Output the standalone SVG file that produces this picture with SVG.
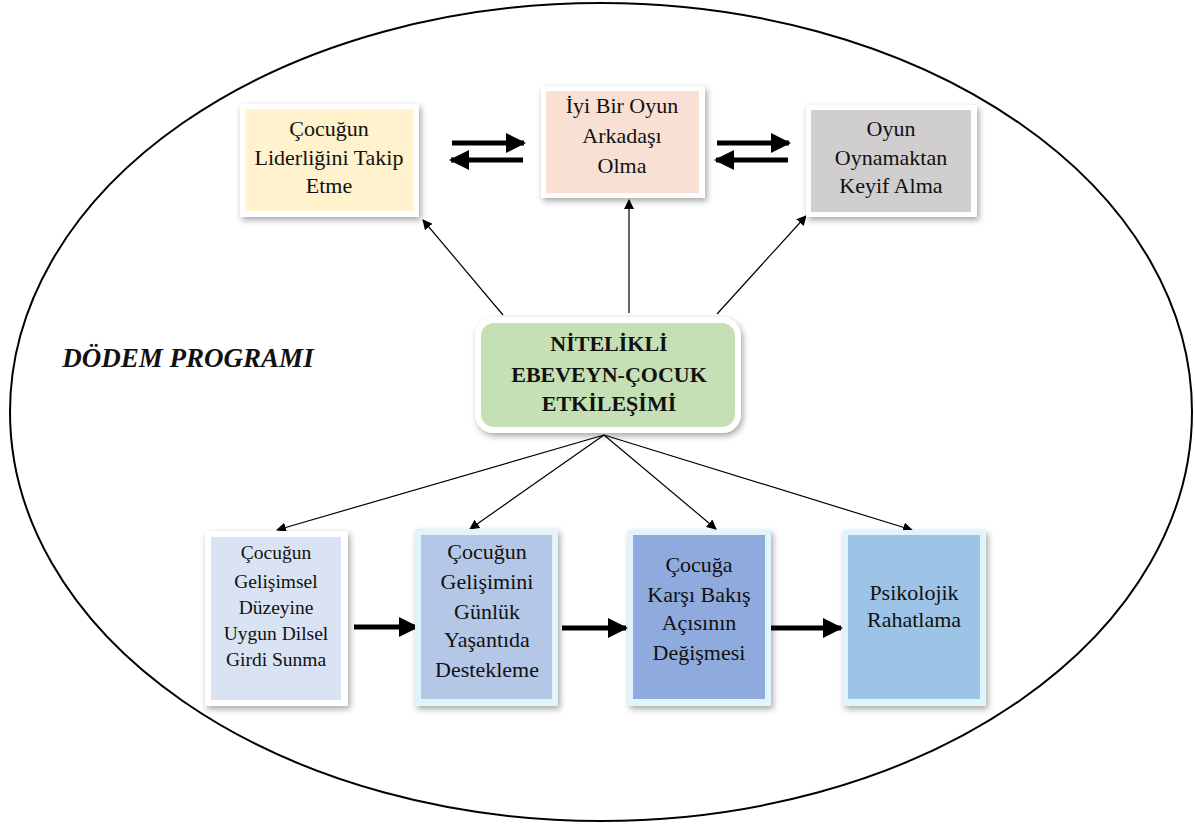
<svg xmlns="http://www.w3.org/2000/svg" width="1195" height="825" viewBox="0 0 1195 825">
<defs>
<filter id="sh" x="-20%" y="-20%" width="140%" height="140%">
<feDropShadow dx="2" dy="3" stdDeviation="3" flood-color="#000" flood-opacity="0.35"/>
</filter>
<marker id="ah" viewBox="0 0 10 10" refX="9" refY="5" markerWidth="10" markerHeight="10" markerUnits="userSpaceOnUse" orient="auto">
<path d="M0,0 L10,5 L0,10 z" fill="#000"/>
</marker>
<marker id="ahb" viewBox="0 0 10 10" refX="9" refY="5" markerWidth="4" markerHeight="4" orient="auto">
<path d="M0,0 L10,5 L0,10 z" fill="#000"/>
</marker>
<style>
text{font-family:'Liberation Serif','Times New Roman',serif}
.t{font-size:22px;fill:#111;text-anchor:middle}
.ts{font-size:19.5px}
.b{font-weight:bold;font-size:22px}
.thin{stroke:#000;stroke-width:1.2;fill:none;marker-end:url(#ah)}
.thick{stroke:#000;stroke-width:5;fill:none;marker-end:url(#ahb)}
.frame{fill:#fff;filter:url(#sh)}
.bev{fill:#dff4fb;filter:url(#sh)}
</style>
</defs>
<rect width="1195" height="825" fill="#fff"/>
<ellipse cx="601" cy="412" rx="591" ry="409" fill="none" stroke="#000" stroke-width="2"/>
<text x="188" y="367" font-size="27" font-weight="bold" font-style="italic" text-anchor="middle" fill="#111">DÖDEM PROGRAMI</text>

<g id="connectors">
<line class="thin" x1="503" y1="315" x2="423" y2="220"/>
<line class="thin" x1="629" y1="313" x2="629" y2="200"/>
<line class="thin" x1="717" y1="314" x2="806" y2="216"/>
<line class="thin" x1="604" y1="435" x2="277" y2="530"/>
<line class="thin" x1="604" y1="435" x2="470" y2="529"/>
<line class="thin" x1="604" y1="435" x2="716" y2="529"/>
<line class="thin" x1="604" y1="435" x2="912" y2="530"/>
<line class="thick" x1="452" y1="143" x2="524" y2="143"/>
<line class="thick" x1="523" y1="160" x2="451" y2="160"/>
<line class="thick" x1="717" y1="143" x2="789" y2="143"/>
<line class="thick" x1="788" y1="160" x2="716" y2="160"/>
<line class="thick" x1="354" y1="627" x2="417" y2="627"/>
<line class="thick" x1="562" y1="628" x2="626" y2="628"/>
<line class="thick" x1="770" y1="628" x2="841" y2="628"/>
</g>

<g id="n1">
<rect class="frame" x="240" y="104" width="179" height="113"/>
<rect x="245" y="109" width="168" height="102" fill="#fff2cc"/>
<text class="t" x="329" y="136">Çocuğun</text>
<text class="t" x="329" y="165">Liderliğini Takip</text>
<text class="t" x="329" y="193">Etme</text>
</g>
<g id="n2">
<rect class="frame" x="541" y="86" width="164" height="112"/>
<rect x="546" y="91" width="153" height="102" fill="#f8e0d4"/>
<text class="t" x="622" y="113">İyi Bir Oyun</text>
<text class="t" x="622" y="143">Arkadaşı</text>
<text class="t" x="622" y="173">Olma</text>
</g>
<g id="n3">
<rect class="frame" x="806" y="105" width="171" height="112"/>
<rect x="811" y="110" width="160" height="102" fill="#d0cece"/>
<text class="t" x="891" y="136">Oyun</text>
<text class="t" x="891" y="165">Oynamaktan</text>
<text class="t" x="891" y="193">Keyif Alma</text>
</g>
<g id="center">
<rect x="478" y="320" width="260" height="110" rx="16" fill="#c5e0b4" stroke="#fff" stroke-width="6" filter="url(#sh)"/>
<text class="t b" x="609" y="351">NİTELİKLİ</text>
<text class="t b" x="609" y="382">EBEVEYN-ÇOCUK</text>
<text class="t b" x="609" y="411">ETKİLEŞİMİ</text>
</g>
<g id="a">
<rect class="frame" x="205" y="531" width="143" height="175"/>
<rect x="211" y="537" width="130" height="163" fill="#dae3f3"/>
<text class="t ts" x="276" y="559">Çocuğun</text>
<text class="t ts" x="276" y="588">Gelişimsel</text>
<text class="t ts" x="276" y="614">Düzeyine</text>
<text class="t ts" x="276" y="640">Uygun Dilsel</text>
<text class="t ts" x="276" y="666">Girdi Sunma</text>
</g>
<g id="b">
<rect class="bev" x="415" y="529" width="143" height="177"/>
<rect x="421" y="535" width="131" height="164" fill="#b4c7e7"/>
<text class="t" x="487" y="559">Çocuğun</text>
<text class="t" x="487" y="589">Gelişimini</text>
<text class="t" x="487" y="619">Günlük</text>
<text class="t" x="487" y="647">Yaşantıda</text>
<text class="t" x="487" y="677">Destekleme</text>
</g>
<g id="c">
<rect class="bev" x="628" y="530" width="143" height="176"/>
<rect x="633" y="535" width="132" height="164" fill="#8faadc"/>
<text class="t" x="699" y="572">Çocuğa</text>
<text class="t" x="699" y="602">Karşı Bakış</text>
<text class="t" x="699" y="630">Açısının</text>
<text class="t" x="699" y="660">Değişmesi</text>
</g>
<g id="d">
<rect class="bev" x="843" y="530" width="143" height="176"/>
<rect x="848" y="535" width="132" height="164" fill="#9dc3e6"/>
<text class="t" x="914" y="600">Psikolojik</text>
<text class="t" x="914" y="627">Rahatlama</text>
</g>
</svg>
